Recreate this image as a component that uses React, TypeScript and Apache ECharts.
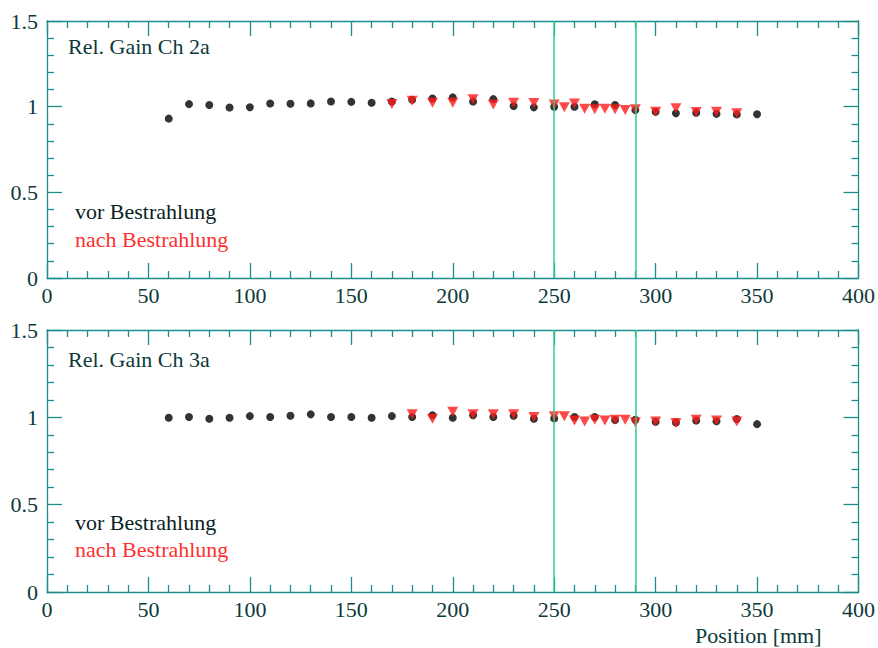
import React, { useEffect, useRef } from "react";
import * as echarts from "echarts";

const xTicks = [0, 400, 50];
const yTicks = [0, 1.5, 0.5];

const blackX = [60, 70, 80, 90, 100, 110, 120, 130, 140, 150, 160, 170, 180, 190, 200, 210, 220, 230, 240, 250, 260, 270, 280, 290, 300, 310, 320, 330, 340, 350];
const topBlack = [0.93, 1.015, 1.01, 0.995, 0.997, 1.018, 1.017, 1.019, 1.03, 1.028, 1.023, 1.03, 1.04, 1.048, 1.054, 1.03, 1.044, 1.004, 0.996, 1.0, 1.0, 1.014, 1.01, 0.98, 0.97, 0.962, 0.965, 0.958, 0.955, 0.956];
const bottomBlack = [0.998, 1.002, 0.992, 0.998, 1.007, 1.002, 1.009, 1.017, 1.002, 1.002, 0.998, 1.007, 1.002, 1.012, 0.998, 1.012, 1.002, 1.009, 0.992, 0.994, 1.002, 1.002, 0.985, 0.986, 0.975, 0.97, 0.982, 0.978, 0.99, 0.961];

const topRedX = [170, 180, 190, 200, 210, 220, 230, 240, 250, 255, 260, 265, 270, 275, 280, 285, 290, 300, 310, 320, 330, 340];
const topRed = [1.016, 1.035, 1.023, 1.023, 1.044, 1.012, 1.023, 1.021, 1.012, 0.996, 1.019, 0.988, 0.985, 0.988, 0.985, 0.981, 0.985, 0.971, 0.991, 0.969, 0.971, 0.962];

const bottomRedX = [180, 190, 200, 210, 220, 230, 240, 250, 255, 260, 265, 270, 275, 280, 285, 290, 300, 310, 320, 330, 340];
const bottomRed = [1.017, 0.992, 1.032, 1.017, 1.017, 1.017, 1.002, 1.006, 1.006, 0.982, 0.976, 0.986, 0.982, 0.986, 0.986, 0.972, 0.976, 0.968, 0.986, 0.982, 0.976];

const markerLines = [250, 290];
const panelTitles = ["Rel. Gain Ch 2a", "Rel. Gain Ch 3a"];
const legendTexts = ["vor Bestrahlung", "nach Bestrahlung"];
const xTitle = "Position [mm]";

const FONT = "'Liberation Serif', 'Times New Roman', serif";
const AXIS_COLOR = "#1f8c8c";
const LABEL_COLOR = "#0c3a3a";
const GREEN = "#2dcf8d";

function zip(xs: number[], ys: number[]) {
  return xs.map((x, i) => [x, ys[i]]);
}

export default function App() {
  const ref = useRef<HTMLDivElement>(null);
  useEffect(() => {
    if (!ref.current) return;
    const chart = echarts.init(ref.current, null, { renderer: "svg" });

    const grids = [
      { left: 47, right: 19, top: 21, height: 257 },
      { left: 47, right: 19, top: 330, height: 262 },
    ];

    const baseAxis = (showLabel: boolean) => ({
      axisLine: { show: true, onZero: false, lineStyle: { color: AXIS_COLOR, width: 1.3 } },
      axisTick: { show: true, inside: true, length: 15, lineStyle: { color: AXIS_COLOR, width: 1.3 } },
      minorTick: { show: true, splitNumber: 5, length: 7, lineStyle: { color: AXIS_COLOR, width: 1.3 } },
      splitLine: { show: false },
      axisLabel: {
        show: showLabel,
        color: LABEL_COLOR,
        fontFamily: FONT,
        fontSize: 22,
      },
    });

    const xAxes: any[] = [];
    const yAxes: any[] = [];
    [0, 1].forEach((g) => {
      xAxes.push({
        type: "value", gridIndex: g, position: "bottom",
        min: xTicks[0], max: xTicks[1], interval: xTicks[2],
        ...baseAxis(true),
        axisLabel: { ...baseAxis(true).axisLabel, margin: 6 },
      });
      xAxes.push({
        type: "value", gridIndex: g, position: "top",
        min: xTicks[0], max: xTicks[1], interval: xTicks[2],
        ...baseAxis(false),
      });
      yAxes.push({
        type: "value", gridIndex: g, position: "left",
        min: yTicks[0], max: yTicks[1], interval: yTicks[2],
        ...baseAxis(true),
        axisLabel: { ...baseAxis(true).axisLabel, margin: 9 },
      });
      yAxes.push({
        type: "value", gridIndex: g, position: "right",
        min: yTicks[0], max: yTicks[1], interval: yTicks[2],
        ...baseAxis(false),
      });
    });

    const mk = () => ({
      silent: true,
      symbol: "none",
      label: { show: false },
      lineStyle: { color: GREEN, width: 1.5, type: "solid" },
      data: markerLines.map((v) => ({ xAxis: v })),
    });

    const series: any[] = [];
    const blacks = [topBlack, bottomBlack];
    const redsX = [topRedX, bottomRedX];
    const reds = [topRed, bottomRed];
    [0, 1].forEach((g) => {
      series.push({
        type: "scatter",
        xAxisIndex: g * 2,
        yAxisIndex: g * 2,
        symbol: "circle",
        symbolSize: 8,
        itemStyle: { color: "#000000" },
        data: zip(blackX, blacks[g]),
        markLine: mk(),
        z: 3,
      });
      series.push({
        type: "scatter",
        xAxisIndex: g * 2,
        yAxisIndex: g * 2,
        symbol: "triangle",
        symbolRotate: 180,
        symbolSize: [11, 10],
        itemStyle: { color: "#ff1a1a" },
        data: zip(redsX[g], reds[g]),
        z: 4,
      });
    });

    const textStyle = (color: string) => ({
      fontFamily: FONT,
      fontSize: 22,
      fill: color,
    });

    const graphic: any[] = [];
    const titleY = [47, 360];
    const vorY = [212, 523];
    const nachY = [240, 550];
    [0, 1].forEach((g) => {
      graphic.push({
        type: "text", left: 68, top: titleY[g] - 12,
        style: { text: panelTitles[g], ...textStyle(LABEL_COLOR) },
      });
      graphic.push({
        type: "text", left: 75, top: vorY[g] - 12,
        style: { text: legendTexts[0], ...textStyle("#0a1f1f") },
      });
      graphic.push({
        type: "text", left: 75, top: nachY[g] - 12,
        style: { text: legendTexts[1], ...textStyle("#ff3030") },
      });
    });
    graphic.push({
      type: "text", left: 695, top: 624,
      style: { text: xTitle, ...textStyle(LABEL_COLOR) },
    });

    chart.setOption({
      animation: false,
      backgroundColor: "#ffffff",
      grid: grids,
      xAxis: xAxes,
      yAxis: yAxes,
      series,
      graphic,
    });
    return () => chart.dispose();
  }, []);
  return (
    <div
      ref={ref}
      style={{ position: "fixed", left: 0, top: 0, width: 878, height: 648 }}
    />
  );
}
